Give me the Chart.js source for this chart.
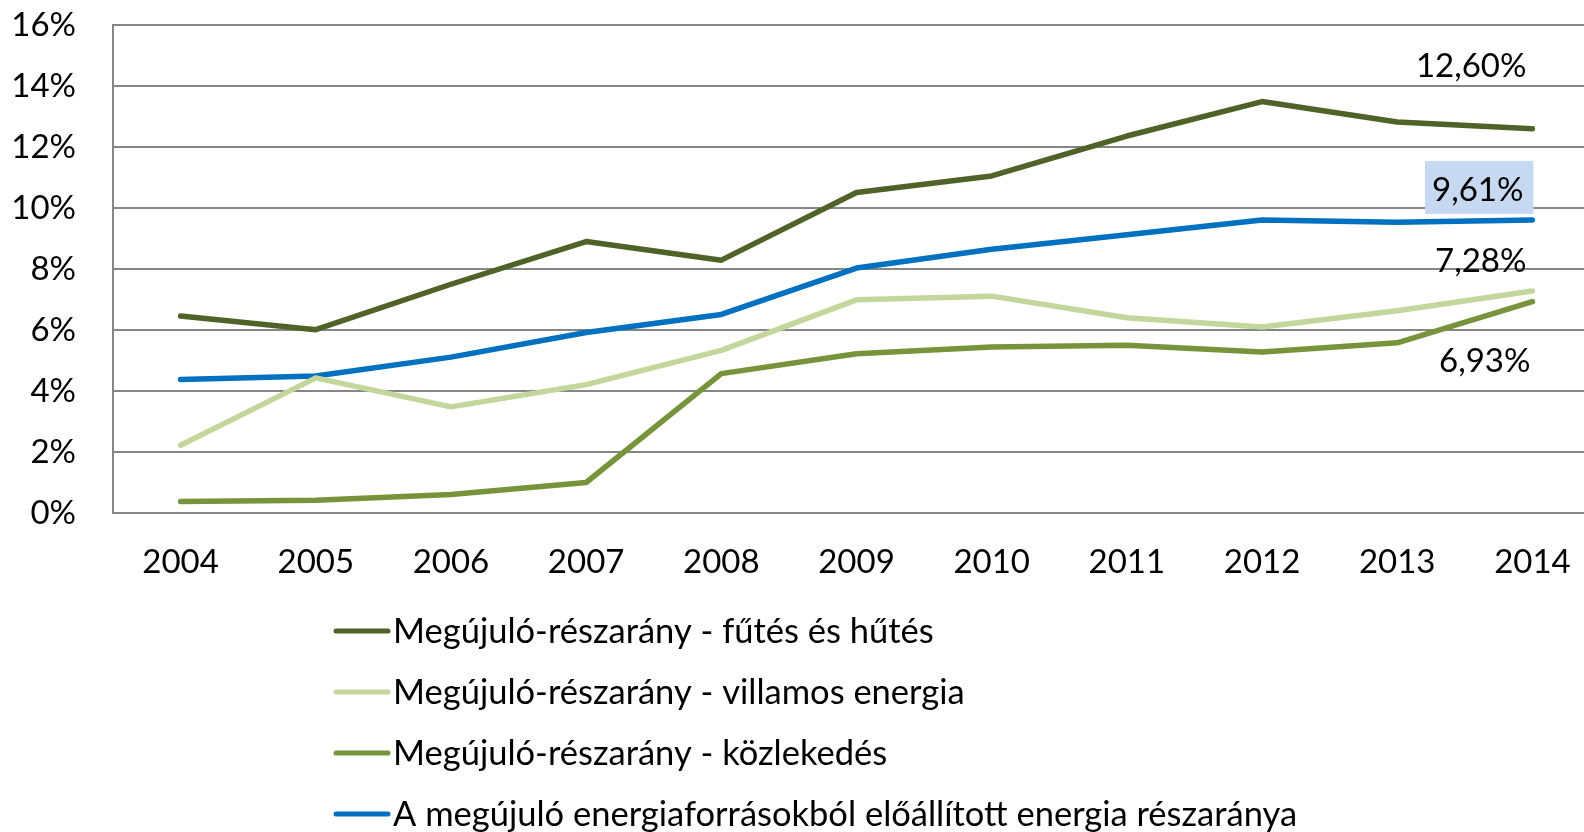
<!DOCTYPE html>
<html>
<head>
<meta charset="utf-8">
<script src="https://cdn.jsdelivr.net/npm/chart.js@4"></script>
<style>
html,body{margin:0;padding:0;background:#fff;overflow:hidden;}
#wrap{position:absolute;left:0;top:0;width:1632px;height:832px;}
</style>
</head>
<body>
<div id="wrap"><canvas id="c"></canvas></div>
<script>
const years = ['2004','2005','2006','2007','2008','2009','2010','2011','2012','2013','2014'];
const futes = [6.46, 6.01, 7.50, 8.90, 8.29, 10.51, 11.05, 12.36, 13.49, 12.82, 12.60];
const villamos = [2.22, 4.43, 3.48, 4.21, 5.33, 6.99, 7.11, 6.40, 6.10, 6.63, 7.28];
const kozlekedes = [0.38, 0.42, 0.61, 1.00, 4.57, 5.22, 5.44, 5.50, 5.28, 5.58, 6.93];
const osszes = [4.38, 4.49, 5.11, 5.92, 6.51, 8.03, 8.65, 9.12, 9.61, 9.53, 9.61];
const seriesNames = [
  'Megújuló-részarány - fűtés és hűtés',
  'Megújuló-részarány - villamos energia',
  'Megújuló-részarány - közlekedés',
  'A megújuló energiaforrásokból előállított energia részaránya'
];
const yTicks = [0, 2, 4, 6, 8, 10, 12, 14, 16];

const FONT_FAMILY = "Lato, 'Liberation Sans', sans-serif";
const FONT_SIZE = 33;
const FONT = FONT_SIZE + 'px ' + FONT_FAMILY;
const LEGEND_FONT = '34.5px ' + FONT_FAMILY;
const GRID = '#868686';

function fmt(v){ return v.toFixed(2).replace('.', ',') + '%'; }

const endLabels = [
  {ds:0, dx:-6, dy:-62, bg:null},
  {ds:3, dx:-9, dy:-30, bg:'#C6D9F1'},
  {ds:1, dx:-6, dy:-30, bg:null},
  {ds:2, dx:-2, dy:60, bg:null}
];

const endLabelPlugin = {
  id:'endLabels',
  afterDatasetsDraw(chart){
    const ctx = chart.ctx;
    ctx.save();
    ctx.font = FONT;
    ctx.textBaseline = 'middle';
    ctx.textAlign = 'right';
    endLabels.forEach(l => {
      const meta = chart.getDatasetMeta(l.ds);
      const pt = meta.data[meta.data.length-1];
      const data = chart.data.datasets[l.ds].data;
      const txt = fmt(data[data.length-1]);
      const xr = pt.x + l.dx;
      const y = pt.y + l.dy;
      const w = ctx.measureText(txt).width;
      if (l.bg){
        ctx.fillStyle = l.bg;
        ctx.fillRect(xr - w - 7, y - 29, w + 17, 53);
      }
      ctx.fillStyle = '#000';
      ctx.fillText(txt, xr, y);
    });
    ctx.restore();
  }
};

const legendPlugin = {
  id:'customLegend',
  afterDraw(chart){
    const ctx = chart.ctx;
    const ds = chart.data.datasets;
    ctx.save();
    ctx.font = LEGEND_FONT;
    const sample = 56, gap = 3;
    const maxW = Math.max(...ds.map(d => ctx.measureText(d.label).width)) + sample + gap;
    const left = Math.round((chart.width - maxW) / 2);
    const top = 631, step = 61;
    ds.forEach((d, i) => {
      const y = top + i * step;
      ctx.strokeStyle = d.borderColor;
      ctx.lineWidth = 5;
      ctx.lineCap = 'round';
      ctx.beginPath();
      ctx.moveTo(left + 2, y);
      ctx.lineTo(left + sample - 2, y);
      ctx.stroke();
      ctx.fillStyle = '#000';
      ctx.textBaseline = 'middle';
      ctx.textAlign = 'left';
      ctx.fillText(d.label, left + sample + gap, y + 1);
    });
    ctx.restore();
  }
};

function ds(label, data, color){
  return {label, data, borderColor:color, backgroundColor:color, borderWidth:5.5,
    pointRadius:0, pointHoverRadius:0, tension:0, fill:false,
    borderCapStyle:'round', borderJoinStyle:'round'};
}

new Chart(document.getElementById('c'), {
  type:'line',
  data:{
    labels: years,
    datasets:[
      ds(seriesNames[0], futes, '#4F6228'),
      ds(seriesNames[1], villamos, '#C3D69B'),
      ds(seriesNames[2], kozlekedes, '#77933C'),
      ds(seriesNames[3], osszes, '#0070C0')
    ]
  },
  options:{
    responsive:true,
    maintainAspectRatio:false,
    animation:false,
    layout:{padding:{top:25, right:32, left:0, bottom:0}},
    plugins:{legend:{display:false}, tooltip:{enabled:false}},
    scales:{
      x:{
        type:'category',
        offset:true,
        grid:{display:false, drawTicks:false},
        border:{display:true, color:GRID, width:2},
        ticks:{color:'#000', font:{family:FONT_FAMILY, size:FONT_SIZE}, padding:30, maxRotation:0, autoSkip:false},
        afterFit(scale){ scale.height = 319; scale.paddingLeft = 0; scale.paddingRight = 0; }
      },
      y:{
        min:0, max:16,
        afterBuildTicks(scale){ scale.ticks = yTicks.map(v => ({value:v})); },
        grid:{color:GRID, lineWidth:2, drawTicks:false},
        border:{display:true, color:GRID, width:2},
        ticks:{color:'#000', font:{family:FONT_FAMILY, size:FONT_SIZE}, padding:37,
          callback:(v) => v + '%'},
        afterFit(scale){ scale.width = 113; scale.paddingTop = 0; scale.paddingBottom = 0; }
      }
    }
  },
  plugins:[endLabelPlugin, legendPlugin]
});
</script>
</body>
</html>
